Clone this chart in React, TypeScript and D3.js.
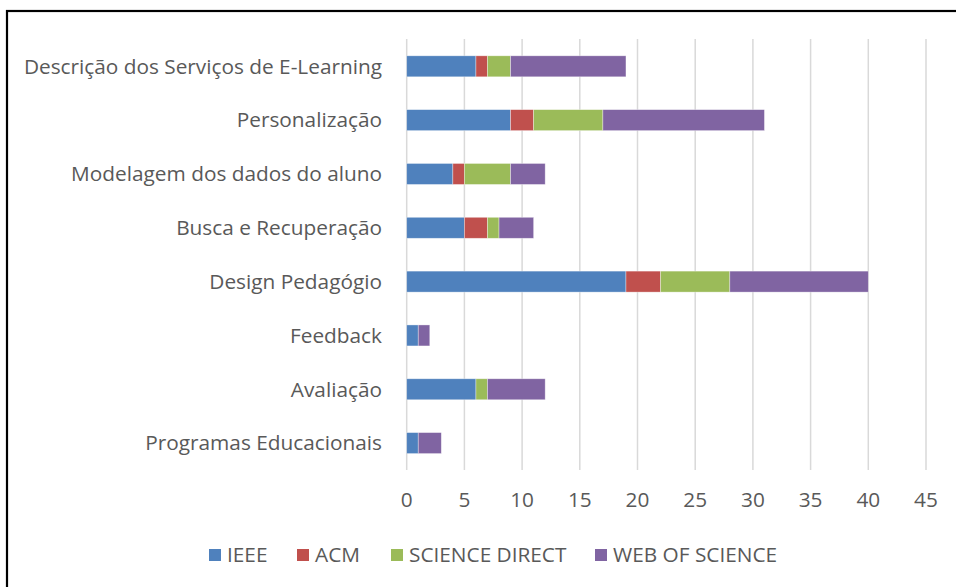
import React, { useEffect, useRef } from "react";
import * as d3 from "d3";

const categories = [
  "Descrição dos Serviços de E-Learning",
  "Personalização",
  "Modelagem dos dados do aluno",
  "Busca e Recuperação",
  "Design Pedagógio",
  "Feedback",
  "Avaliação",
  "Programas Educacionais",
];
const seriesNames = ["IEEE", "ACM", "SCIENCE DIRECT", "WEB OF SCIENCE"];
const ieee = [6, 9, 4, 5, 19, 1, 6, 1];
const acm = [1, 2, 1, 2, 3, 0, 0, 0];
const scienceDirect = [2, 6, 4, 1, 6, 0, 1, 0];
const webOfScience = [10, 14, 3, 3, 12, 1, 5, 2];
const ticks = [0, 5, 10, 15, 20, 25, 30, 35, 40, 45];
const colors = ["#4f81bd", "#c0504d", "#9bbb59", "#8064a2"];

const W = 956, H = 587;
const FONT = "'Open Sans', 'Noto Sans', sans-serif";
const FS = 20.8;

export default function App() {
  const ref = useRef<SVGSVGElement>(null);

  useEffect(() => {
    const svg = d3.select(ref.current);
    svg.selectAll("*").remove();

    // frame (only top and left edges visible)
    svg.append("rect")
      .attr("x", 7).attr("y", 11)
      .attr("width", 1000).attr("height", 700)
      .attr("fill", "#fff")
      .attr("stroke", "#000").attr("stroke-width", 2.2);

    const x = d3.scaleLinear().domain([0, 40]).range([406.7, 868.3]);
    const y = d3.scaleBand().domain(categories).range([39.4, 470]).paddingInner(0.61).paddingOuter(0.305);

    const rows = categories.map((c, i) => ({
      cat: c,
      IEEE: ieee[i],
      ACM: acm[i],
      "SCIENCE DIRECT": scienceDirect[i],
      "WEB OF SCIENCE": webOfScience[i],
    }));
    const stack = d3.stack<any>().keys(seriesNames)(rows);

    // gridlines
    svg.append("g").selectAll("line").data(ticks).enter().append("line")
      .attr("x1", d => x(d)).attr("x2", d => x(d))
      .attr("y1", 39).attr("y2", 470)
      .attr("stroke", "#d9d9d9").attr("stroke-width", 1.5);

    // bars
    stack.forEach((layer, si) => {
      svg.append("g").attr("fill", colors[si])
        .selectAll("rect").data(layer).enter().append("rect")
        .filter(d => d[1] - d[0] > 0)
        .attr("x", d => x(d[0]))
        .attr("width", d => x(d[1]) - x(d[0]))
        .attr("y", (d: any) => y(d.data.cat)!)
        .attr("height", y.bandwidth())
        .attr("stroke", "#fff").attr("stroke-opacity", 0.5).attr("stroke-width", 0.7);
    });

    // x tick labels
    svg.append("g").selectAll("text").data(ticks).enter().append("text")
      .attr("x", d => x(d)).attr("y", 507)
      .attr("text-anchor", "middle")
      .attr("font-family", FONT).attr("font-size", FS)
      .attr("fill", "#595959")
      .text(d => d);

    // category labels
    svg.append("g").selectAll("text").data(categories).enter().append("text")
      .attr("x", 382)
      .attr("y", d => y(d)! + y.bandwidth() / 2)
      .attr("dy", "0.35em")
      .attr("text-anchor", "end")
      .attr("font-family", FONT).attr("font-size", FS)
      .attr("fill", "#595959")
      .text(d => d);

    // legend
    const legendX = [209, 297, 391, 595];
    const lg = svg.append("g").selectAll("g").data(seriesNames).enter().append("g")
      .attr("transform", (d, i) => `translate(${legendX[i]},549)`);
    lg.append("rect").attr("width", 12).attr("height", 12)
      .attr("fill", (d, i) => colors[i]);
    lg.append("text").attr("x", 18).attr("y", 6).attr("dy", "0.35em")
      .attr("font-family", FONT).attr("font-size", FS)
      .attr("fill", "#595959")
      .text(d => d);
  }, []);

  return (
    <svg ref={ref} width={W} height={H}
      style={{ position: "absolute", left: 0, top: 0, background: "#fff" }} />
  );
}
